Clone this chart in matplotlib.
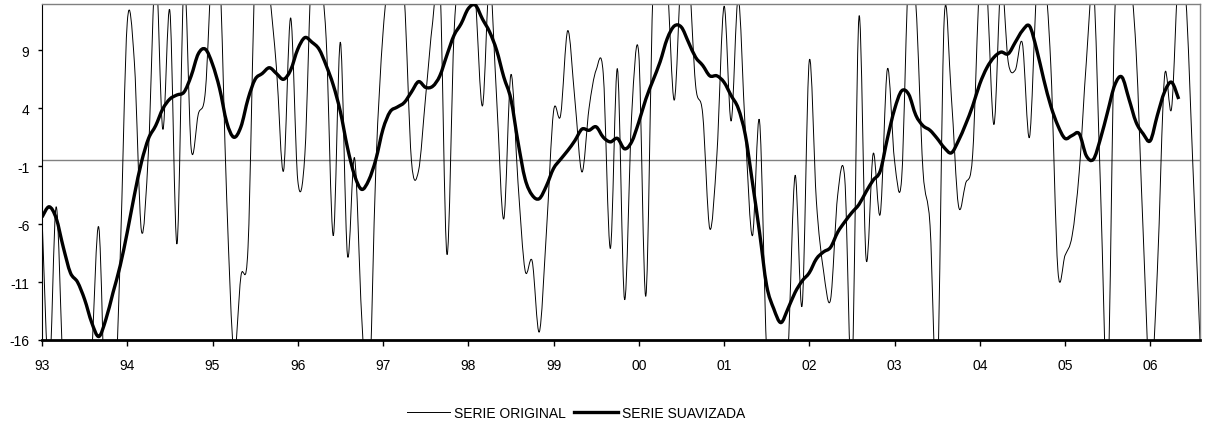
import matplotlib
matplotlib.use("Agg")
import matplotlib.pyplot as plt
from matplotlib.path import Path
from matplotlib.patches import PathPatch
from matplotlib.lines import Line2D
import numpy as np

plt.rcParams['font.family'] = ['Liberation Sans', 'DejaVu Sans']
plt.rcParams['axes.unicode_minus'] = False

# monthly data, Jan 1993 ... Aug 2006
original = [
    -5.3, -19, -4.5, -19, -24, -24, -22, -17, -6.3, -24,
    -25, -9, 11.4, 8, -6.6, 0.5, 16, 2.2, 12.4, -7.7,
    15, 0.5, 3.5, 5.5, 17, 16, -3.8, -17, -10.5, -8,
    16, 18, 14, 7.5, -1.4, 11.8, -2.2, 0, 17, 16,
    10, -7, 9.7, -8.7, -0.3, -14, -21, -1, 10.5, 16,
    17, 13.5, -0.5, -1.4, 5, 11.5, 15, -8.6, 10.5, 17,
    18, 13.5, 4.2, 15, 4.8, -5.55, 6.9, -2.4, -10, -9.2,
    -15.3, -6.7, 3.7, 3.4, 10.7, 4.8, -1.5, 4, 7.3, 7.0,
    -8.1, 7.4, -12.5, 3.4, 8.7, -12.2, 14, 18, 15, 4.7,
    16, 16, 6, 3.5, -6.4, 0, 12.8, 2.9, 13.5, 2,
    -7, 2.9, -17, -22, -20, -17, -1.8, -13, 8.1, -4,
    -10, -12.5, -3.5, -2.1, -19, 11.9, -9, 0.1, -5.1, 7.4,
    -0.5, -2.1, 16, 13, -1.3, -6.1, -20, 11.8, 5, -4.4,
    -2.5, 0, 15, 14, 2.6, 15, 8, 7.3, 9.6, 1.5,
    14, 16, 7.7, -10, -8.7, -7, -1.5, 8, 14.5, -3,
    -20, 12, 16, 16, 9, -6.7, -20, -10, 6.7, 4,
    16, 13.5, -1, -16,
]

suavizada = [
    -5.4, -4.5, -5.5, -8, -10.2, -11, -12.5, -14.5, -15.7, -14.2,
    -11.9, -9.6, -6.7, -3.5, -0.65, 1.4, 2.5, 3.95, 4.8, 5.15,
    5.4, 6.8, 8.7, 9.1, 7.8, 5.7, 2.8, 1.5, 2.4, 4.8,
    6.5, 7.0, 7.5, 7.0, 6.5, 7.3, 9.1, 10.1, 9.7, 9.1,
    7.7, 6.0, 3.7, 0.6, -1.8, -3.0, -2.2, -0.4, 2.2, 3.7,
    4.1, 4.5, 5.4, 6.3, 5.8, 5.9, 6.8, 8.6, 10.3, 11.3,
    12.6, 12.9, 11.7, 10.6, 9.0, 6.7, 4.8, 1.1, -2.1, -3.5,
    -3.8, -2.7, -1.2, -0.4, 0.35, 1.2, 2.2, 2.1, 2.4, 1.5,
    1.1, 1.4, 0.5, 1.1, 2.8, 4.8, 6.4, 8.0, 10.0, 11.1,
    11.0, 9.7, 8.4, 7.7, 6.8, 6.8, 6.25, 5.1, 4.0, 1.7,
    -2.4, -6.7, -11.3, -13.3, -14.5, -13.3, -11.9, -10.9, -10.2, -9.0,
    -8.4, -8.0, -6.7, -5.8, -5.0, -4.3, -3.2, -2.2, -1.4, 1.4,
    3.9, 5.5, 5.2, 3.4, 2.5, 2.1, 1.4, 0.6, 0.15, 1.2,
    2.6, 4.2, 6.1, 7.5, 8.4, 8.85, 8.7, 9.7, 10.7, 11.1,
    9.1, 6.5, 4.2, 2.5, 1.4, 1.65, 1.8, -0.1, -0.4, 1.4,
    3.7, 6.0, 6.7, 4.8, 2.8, 1.8, 1.2, 3.4, 5.4, 6.25,
    4.8,
]

ref_level = -0.45
years = list(range(1993, 2007))
year_labels = [f"{y % 100:02d}" for y in years]
yticks = [-16, -11, -6, -1, 4, 9]


def smooth_path(x, y):
    # Excel-style smoothed line: cubic Bezier through every data point
    pts = np.column_stack([x, y])
    n = len(pts)
    verts = [pts[0]]
    codes = [Path.MOVETO]
    for i in range(n - 1):
        p0 = pts[i - 1] if i > 0 else pts[i]
        p1 = pts[i]
        p2 = pts[i + 1]
        p3 = pts[i + 2] if i + 2 < n else pts[i + 1]
        verts += [p1 + (p2 - p0) / 6, p2 - (p3 - p1) / 6, p2]
        codes += [Path.CURVE4] * 3
    return Path(verts, codes)


t_orig = 1993 + np.arange(len(original)) / 12
t_suav = 1993 + np.arange(len(suavizada)) / 12

fig = plt.figure(figsize=(12.05, 4.27), dpi=100)
ax = fig.add_axes([42 / 1205, 1 - 341 / 427, 1158 / 1205, 336 / 427])

ax.axhline(ref_level, color='#808080', lw=1.0, zorder=1)
ax.add_patch(PathPatch(smooth_path(t_orig, original), fill=False,
                       edgecolor='black', lw=0.7, zorder=2))
ax.add_patch(PathPatch(smooth_path(t_suav, suavizada), fill=False,
                       edgecolor='black', lw=2.4, zorder=3,
                       joinstyle='round', capstyle='butt'))

ax.set_xlim(1993, 1993 + (len(original) - 1) / 12)
ax.set_ylim(-16, 13)
ax.set_xticks(years)
ax.set_xticklabels(year_labels)
ax.set_yticks(yticks)

ax.tick_params(axis='x', direction='out', length=4, width=1, pad=9, labelsize=10)
ax.tick_params(axis='y', direction='out', length=3, width=1, pad=6, labelsize=10)

for side in ['top', 'right']:
    ax.spines[side].set_color('#808080')
    ax.spines[side].set_linewidth(1)
ax.spines['left'].set_color('black')
ax.spines['left'].set_linewidth(0.8)
ax.spines['bottom'].set_color('black')
ax.spines['bottom'].set_linewidth(2)

handles = [Line2D([], [], color='black', lw=0.7),
           Line2D([], [], color='black', lw=2.4)]
fig.legend(handles, ['SERIE ORIGINAL', 'SERIE SUAVIZADA'], loc='center',
           bbox_to_anchor=(576 / 1205, 1 - 414 / 427), ncol=2,
           frameon=False, fontsize=10, handlelength=3.1, handletextpad=0.3,
           columnspacing=0.6)

fig.savefig('out.png', dpi=100)
